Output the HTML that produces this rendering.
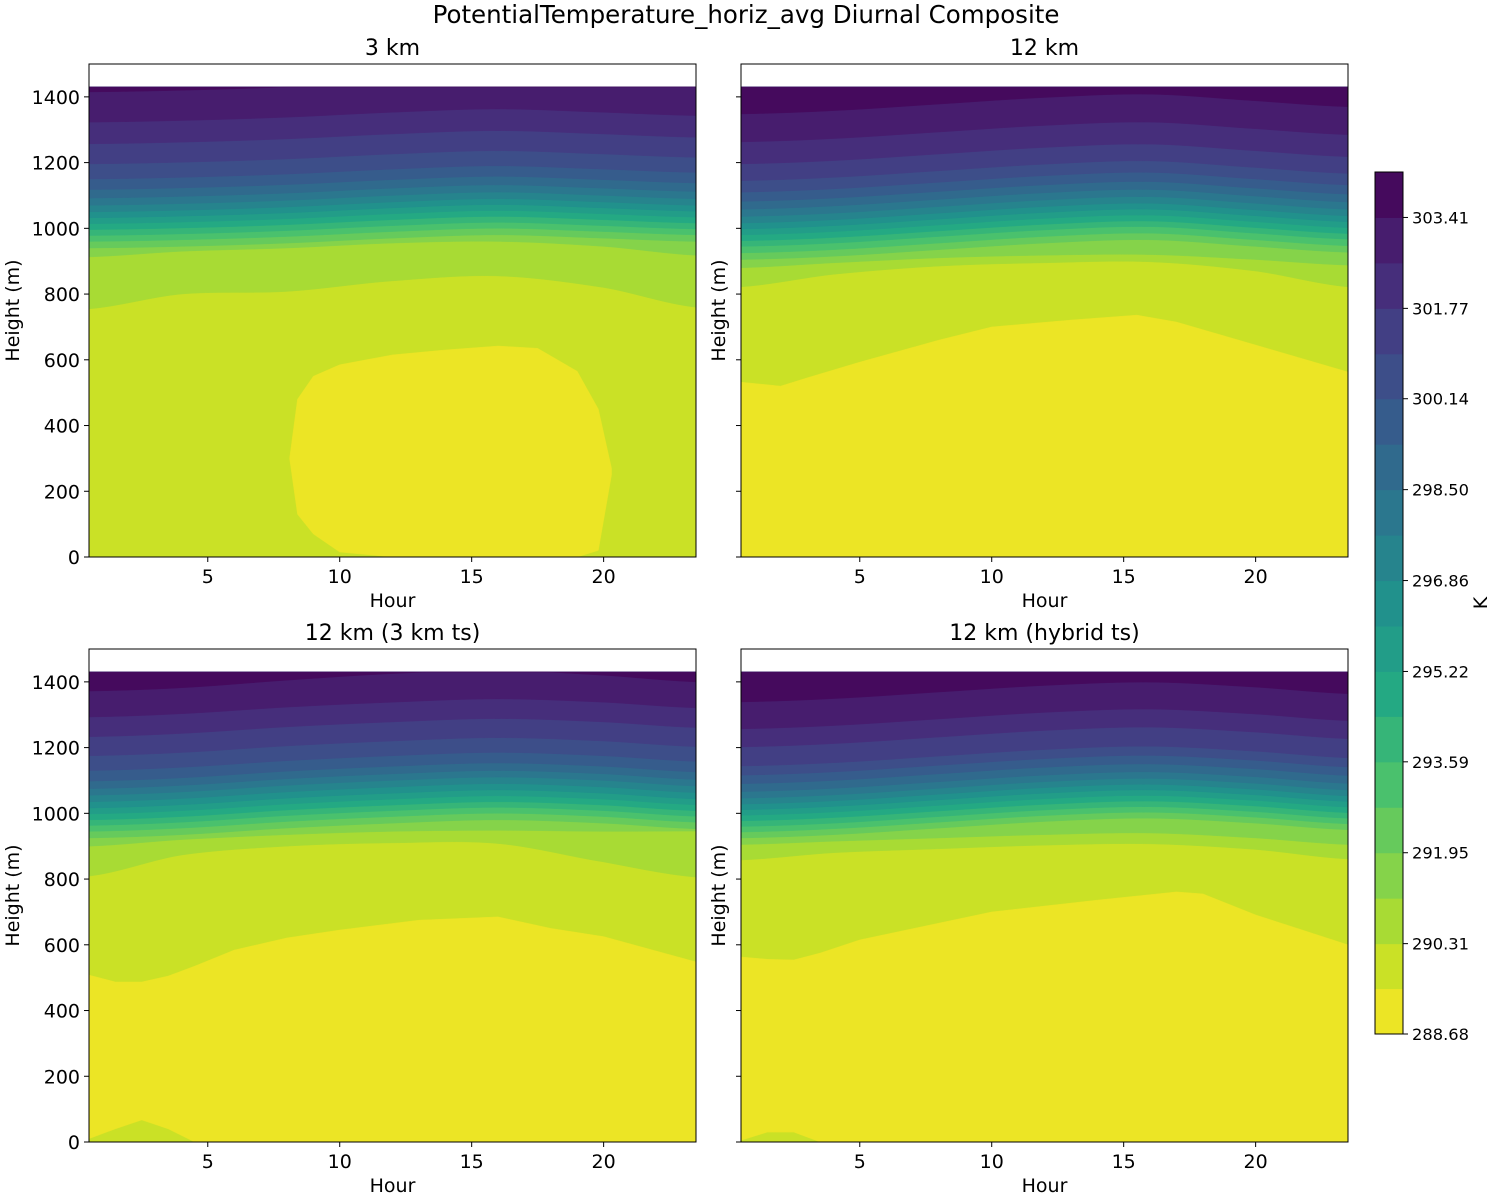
<!DOCTYPE html>
<html><head><meta charset="utf-8">
<style>
html,body{margin:0;padding:0;background:#fff;}
svg{display:block;font-family:"DejaVu Sans","Liberation Sans",sans-serif;}
</style></head>
<body>
<svg id="fig" width="1500" height="1200" viewBox="0 0 1500 1200">
<text x="746" y="23" font-size="24.5" text-anchor="middle">PotentialTemperature_horiz_avg Diurnal Composite</text>
</svg>
<script>
// ---------- data ----------
const hours = [0.5, 4, 8, 12, 16, 20, 23.5];
const levelValues = [288.68,289.50,290.31,291.13,291.95,292.77,293.59,294.41,295.22,296.04,296.86,297.68,298.50,299.32,300.14,300.95,301.77,302.59,303.41,304.23];
const cbarTicks = [288.68,290.31,291.95,293.59,295.22,296.86,298.50,300.14,301.77,303.41];
const xTicks = [5, 10, 15, 20];
const yTicks = [0, 200, 400, 600, 800, 1000, 1200, 1400];
const dataTop = 1430;

// contour level heights (m) for levels 2..18, at each hour in `hours`
const tlLevels = [
[755,800,808,840,855,820,760],
[913,930,940,955,960,945,918],
[940,945,955,970,980,970,960],
[960,965,975,990,1000,990,980],
[978,983,993,1008,1018,1008,998],
[996,1001,1011,1026,1036,1026,1016],
[1014,1019,1029,1044,1054,1044,1034],
[1032,1037,1047,1062,1072,1062,1052],
[1050,1055,1065,1080,1090,1080,1070],
[1070,1075,1085,1100,1110,1100,1090],
[1092,1097,1107,1122,1132,1122,1112],
[1118,1123,1133,1148,1158,1148,1138],
[1150,1155,1165,1180,1190,1180,1170],
[1196,1201,1211,1226,1236,1226,1216],
[1257,1262,1272,1287,1297,1287,1277],
[1323,1328,1338,1353,1363,1353,1343],
[1415,1420,1430,1445,1455,1445,1435]];
const tlCoolHours = [8.1,8.4,9,10,12,14,16,17.5,19,19.8,20.3];
const tlCoolTop = [300,480,550,585,615,630,642,635,565,450,270];
const tlCoolBottom = [300,130,70,15,0,0,0,0,0,20,250];

const trLevels = [
[822,860,885,895,898,870,822],
[880,895,910,918,920,905,888],
[905,915,935,955,965,945,927],
[925,935,955,975,985,965,947],
[945,955,975,995,1005,985,967],
[962,972,992,1012,1022,1002,984],
[980,990,1010,1030,1040,1020,1002],
[998,1008,1028,1048,1058,1038,1020],
[1016,1026,1046,1066,1076,1056,1038],
[1036,1046,1066,1086,1096,1076,1058],
[1058,1068,1088,1108,1118,1098,1080],
[1082,1092,1112,1132,1142,1122,1104],
[1110,1120,1140,1160,1170,1150,1132],
[1145,1155,1175,1195,1205,1185,1167],
[1196,1206,1226,1246,1256,1236,1218],
[1263,1273,1293,1313,1323,1303,1285],
[1348,1358,1378,1398,1408,1388,1370]];
const trCoolHours = [0.5,2,3,5,8,10,13,15.5,17,20,23.5];
const trCoolTop = [532,520,545,593,660,700,721,736,715,645,563];
const trCoolBottom = [0,0,0,0,0,0,0,0,0,0,0];

const blLevels = [
[809,873,900,910,908,852,806],
[900,920,935,945,948,945,946],
[925,935,955,970,980,970,953],
[945,955,975,990,1000,990,973],
[963,973,993,1008,1018,1008,991],
[980,990,1010,1025,1035,1025,1008],
[998,1008,1028,1043,1053,1043,1026],
[1016,1026,1046,1061,1071,1061,1044],
[1035,1045,1065,1080,1090,1080,1063],
[1055,1065,1085,1100,1110,1100,1083],
[1075,1085,1105,1120,1130,1120,1103],
[1098,1108,1128,1143,1153,1143,1126],
[1130,1140,1160,1175,1185,1175,1158],
[1175,1185,1205,1220,1230,1220,1203],
[1233,1243,1263,1278,1288,1278,1261],
[1293,1303,1323,1338,1348,1338,1321],
[1372,1382,1405,1425,1435,1420,1400]];
const blCoolHours = [0.5,1.5,2.5,3.5,4.5,6,8,10,13,16,18,20,23.5];
const blCoolTop = [508,487,487,505,535,584,621,645,675,685,650,625,548];
const blCoolBottom = [10,40,67,40,0,0,0,0,0,0,0,0,0];

const brLevels = [
[858,880,892,903,907,890,861],
[905,915,925,935,940,925,905],
[925,935,955,975,985,970,950],
[943,953,973,993,1003,988,968],
[960,970,990,1010,1020,1005,985],
[977,987,1007,1027,1037,1022,1002],
[994,1004,1024,1044,1054,1039,1019],
[1011,1021,1041,1061,1071,1056,1036],
[1028,1038,1058,1078,1088,1073,1053],
[1046,1056,1076,1096,1106,1091,1071],
[1066,1076,1096,1116,1126,1111,1091],
[1090,1100,1120,1140,1150,1135,1115],
[1116,1126,1146,1166,1176,1161,1141],
[1144,1154,1174,1194,1204,1189,1169],
[1202,1212,1232,1252,1262,1247,1227],
[1257,1267,1287,1307,1317,1302,1282],
[1339,1349,1369,1389,1399,1384,1364]];
const brCoolHours = [0.5,1.5,2.5,3.5,5,10,14,17,18,20,23.5];
const brCoolTop = [563,556,554,575,615,700,736,761,755,691,600];
const brCoolBottom = [5,30,30,0,0,0,0,0,0,0,0];

// ---------- helpers ----------
const NS = "http://www.w3.org/2000/svg";
const svg = document.getElementById('fig');
function mk(tag, attrs, parent){const e=document.createElementNS(NS,tag);for(const k in attrs)e.setAttribute(k,attrs[k]);(parent||svg).appendChild(e);return e;}
const VIR = ["#440154","#482475","#414487","#355f8d","#2a788e","#21918c","#22a884","#44bf70","#7ad151","#bddf26","#fde725"];
function hex2rgb(h){return [parseInt(h.slice(1,3),16),parseInt(h.slice(3,5),16),parseInt(h.slice(5,7),16)];}
function viridis(t){t=Math.max(0,Math.min(1,t));const s=t*10,i=Math.min(9,Math.floor(s)),f=s-i;const a=hex2rgb(VIR[i]),b=hex2rgb(VIR[i+1]);return "rgb("+a.map((v,j)=>Math.round(v+(b[j]-v)*f)).join(",")+")";}
const nBands = levelValues.length-1;
function bandColor(k){return viridis(1-(k+0.5)/nBands);}
function catmull(hs,vs,h){
  if(h<=hs[0])return vs[0]; const n=hs.length; if(h>=hs[n-1])return vs[n-1];
  let i=0; while(h>hs[i+1])i++;
  const t=(h-hs[i])/(hs[i+1]-hs[i]);
  const p0=vs[i-1]!==undefined?vs[i-1]:vs[i], p1=vs[i], p2=vs[i+1], p3=vs[i+2]!==undefined?vs[i+2]:vs[i+1];
  return 0.5*((2*p1)+(-p0+p2)*t+(2*p0-5*p1+4*p2-p3)*t*t+(-p0+3*p1-3*p2+p3)*t*t*t);
}
function lin(hs,vs,h){
  if(h<=hs[0])return vs[0]; const n=hs.length; if(h>=hs[n-1])return vs[n-1];
  let i=0; while(h>hs[i+1])i++; const t=(h-hs[i])/(hs[i+1]-hs[i]); return vs[i]+(vs[i+1]-vs[i])*t;
}

const panels = [
 {name:'panel-3km', title:'3 km', x0:89, top:64, levels:tlLevels, ch:tlCoolHours, ct:tlCoolTop, cb:tlCoolBottom, ylabels:true},
 {name:'panel-12km', title:'12 km', x0:741, top:64, levels:trLevels, ch:trCoolHours, ct:trCoolTop, cb:trCoolBottom, ylabels:false},
 {name:'panel-12km-3km-ts', title:'12 km (3 km ts)', x0:89, top:649, levels:blLevels, ch:blCoolHours, ct:blCoolTop, cb:blCoolBottom, ylabels:true},
 {name:'panel-12km-hybrid-ts', title:'12 km (hybrid ts)', x0:741, top:649, levels:brLevels, ch:brCoolHours, ct:brCoolTop, cb:brCoolBottom, ylabels:false}
];
const PW=607, PH=493, XMIN=0.5, XMAX=23.5, YMAX=1500;

panels.forEach(p=>{
  const g = mk('g',{});
  
  
  const xs = h => p.x0 + (h-XMIN)/(XMAX-XMIN)*PW;
  const ys = z => p.top + PH - z/YMAX*PH;
  const clip = z => Math.max(0, Math.min(dataTop, z));
  const base = mk('rect',{x:xs(XMIN),y:ys(dataTop),width:PW,height:ys(0)-ys(dataTop),fill:bandColor(1)},g);
  
  
  const step = 0.1;
  p.levels.forEach((lv,idx)=>{
    const k = idx+2;
    let pts=[];
    for(let h=XMIN; h<=XMAX+1e-9; h+=step){pts.push(xs(h).toFixed(2)+","+ys(clip(catmull(hours,lv,h))).toFixed(2));}
    pts.push(xs(XMAX).toFixed(2)+","+ys(dataTop).toFixed(2));
    pts.push(xs(XMIN).toFixed(2)+","+ys(dataTop).toFixed(2));
    const poly = mk('polygon',{points:pts.join(" "),fill:bandColor(k),stroke:bandColor(k),'stroke-width':0.4},g);
    
    
  });
  let top=[],bot=[];
  const h0=p.ch[0], h1=p.ch[p.ch.length-1];
  for(let h=h0; h<=h1+1e-9; h+=step){
    top.push(xs(h).toFixed(2)+","+ys(clip(lin(p.ch,p.ct,h))).toFixed(2));
    bot.push(xs(h).toFixed(2)+","+ys(clip(lin(p.ch,p.cb,h))).toFixed(2));
  }
  const c0 = mk('polygon',{points:top.concat(bot.reverse()).join(" "),fill:bandColor(0),stroke:bandColor(0),'stroke-width':0.4},g);
  
  
  const fr = mk('rect',{x:p.x0,y:p.top,width:PW,height:PH,fill:'none',stroke:'#000','stroke-width':1},g);
  
  
  xTicks.forEach(t=>{
    const x=xs(t);
    const tk=mk('line',{x1:x,x2:x,y1:p.top+PH,y2:p.top+PH+5,stroke:'#000','stroke-width':1},g);
    
    
    const tl=mk('text',{x:x,y:p.top+PH+26,'font-size':19,'text-anchor':'middle'},g);
    tl.textContent=t;
    
    
  });
  yTicks.forEach(t=>{
    const y=ys(t);
    const tk=mk('line',{x1:p.x0-5,x2:p.x0,y1:y,y2:y,stroke:'#000','stroke-width':1},g);
    
    
    if(p.ylabels){
      const tl=mk('text',{x:p.x0-9,y:y+7,'font-size':19,'text-anchor':'end'},g);
      tl.textContent=t;
      
      
    }
  });
  const xl=mk('text',{x:p.x0+PW/2,y:p.top+PH+50,'font-size':19,'text-anchor':'middle'},g);
  xl.textContent='Hour';
  
  
  const yx = p.ylabels ? 19 : p.x0-16;
  const yl=mk('text',{x:yx,y:p.top+PH/2,'font-size':19,'text-anchor':'middle',transform:'rotate(-90 '+yx+' '+(p.top+PH/2)+')'},g);
  yl.textContent='Height (m)';
  
  
  const st=mk('text',{x:p.x0+PW/2,y:p.top-9,'font-size':22,'text-anchor':'middle'},g);
  st.textContent=p.title;
  
  
});

(function(){
  const cx=1375, cw=28, cTop=172, cBot=1034;
  const g=mk('g',{});
  
  
  const vmin=levelValues[0], vmax=levelValues[levelValues.length-1];
  const cy = v => cBot - (v-vmin)/(vmax-vmin)*(cBot-cTop);
  for(let k=0;k<nBands;k++){
    const y1=cy(levelValues[k+1]), y0=cy(levelValues[k]);
    const r=mk('rect',{x:cx,y:y1,width:cw,height:y0-y1+0.5,fill:bandColor(k)},g);
    
    
  }
  const fr=mk('rect',{x:cx,y:cTop,width:cw,height:cBot-cTop,fill:'none',stroke:'#000','stroke-width':1},g);
  
  
  cbarTicks.forEach(v=>{
    const y=cy(v);
    const tk=mk('line',{x1:cx+cw,x2:cx+cw+5,y1:y,y2:y,stroke:'#000','stroke-width':1},g);
    
    
    const tl=mk('text',{x:cx+cw+9,y:y+6,'font-size':16.3},g);
    tl.textContent=v.toFixed(2);
    
    
  });
  const lb=mk('text',{x:1487,y:603,'font-size':19,'text-anchor':'middle',transform:'rotate(-90 1487 603)'},g);
  lb.textContent='K';
  
  
})();
</script>
</body></html>
